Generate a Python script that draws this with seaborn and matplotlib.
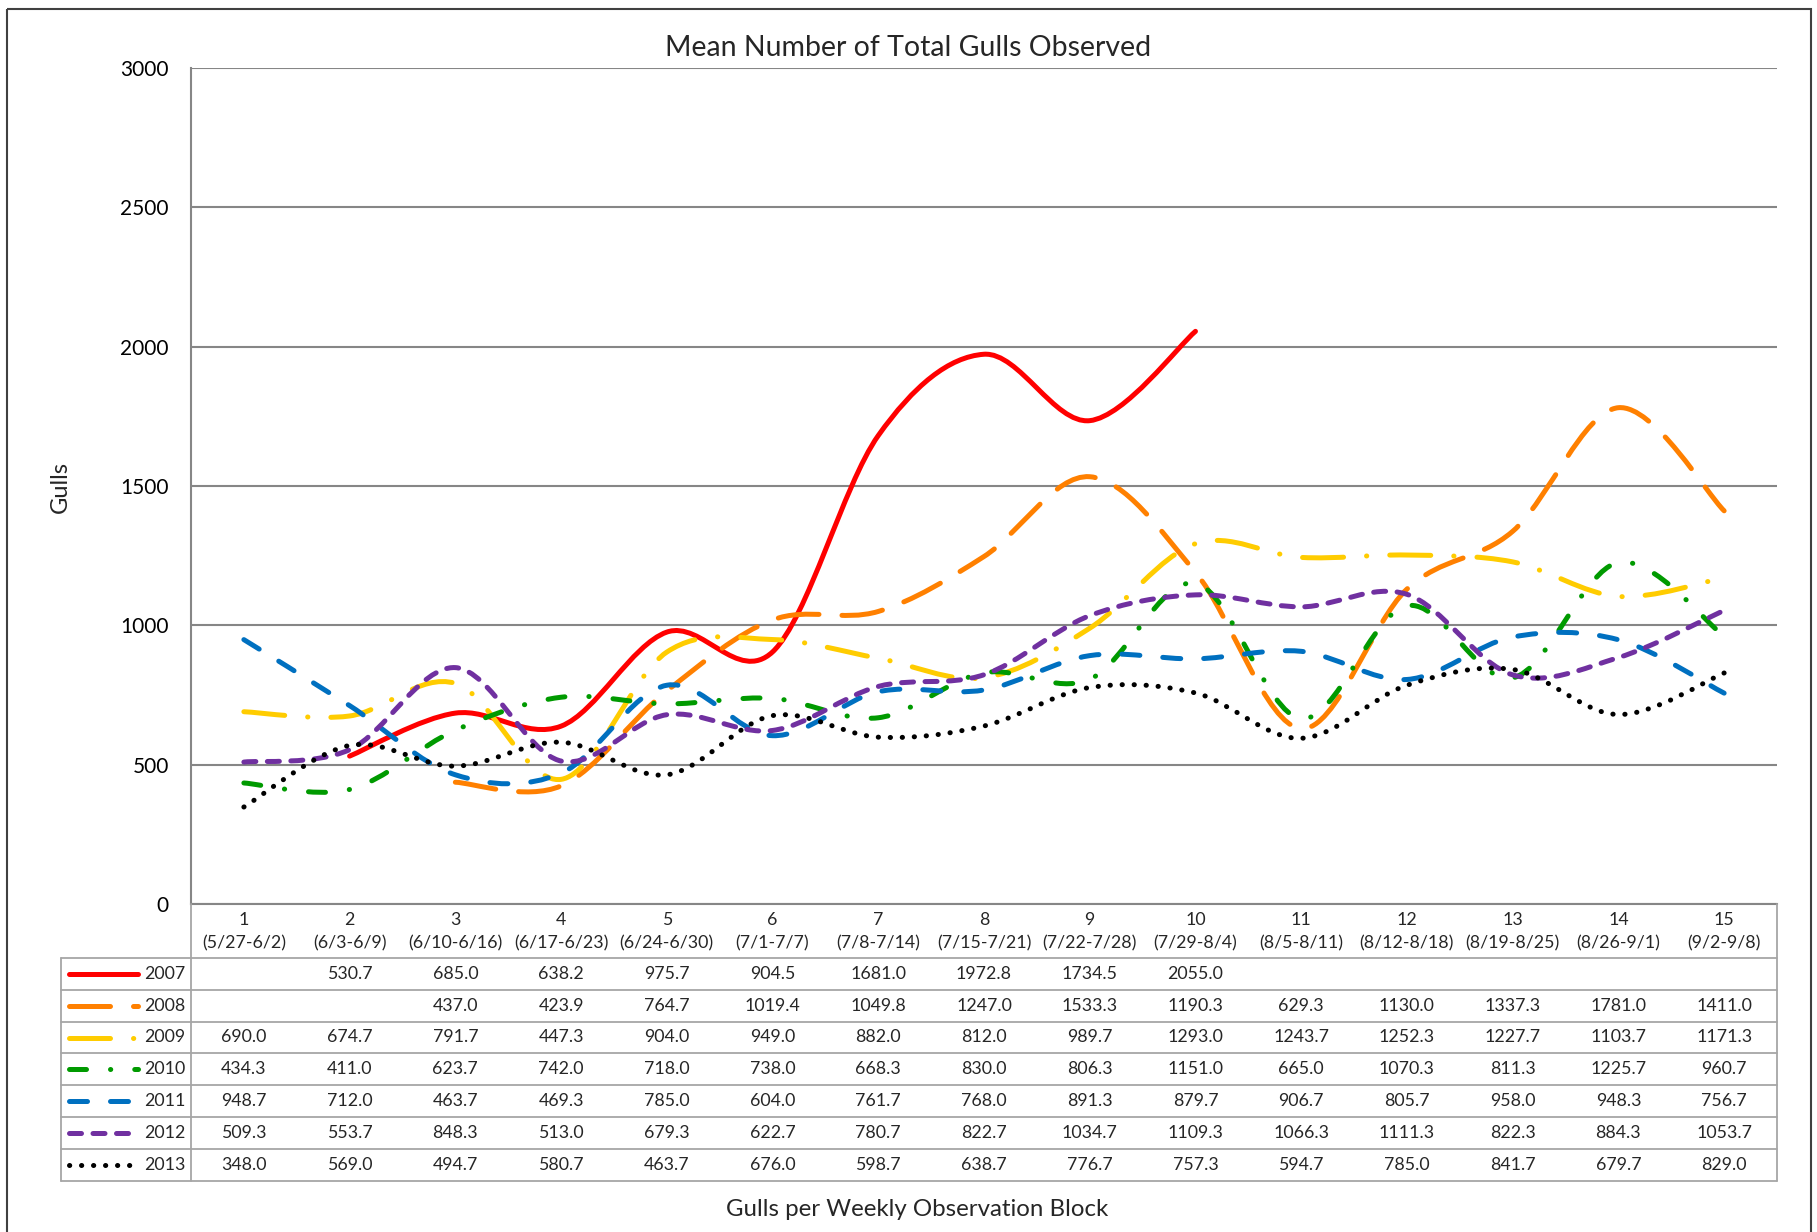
import numpy as np
import seaborn as sns
import matplotlib.pyplot as plt
from matplotlib.path import Path
from matplotlib.patches import PathPatch, Rectangle

# weekly blocks and their date ranges
blocks = list(range(1, 16))
date_ranges = ['(5/27-6/2)', '(6/3-6/9)', '(6/10-6/16)', '(6/17-6/23)', '(6/24-6/30)',
               '(7/1-7/7)', '(7/8-7/14)', '(7/15-7/21)', '(7/22-7/28)', '(7/29-8/4)',
               '(8/5-8/11)', '(8/12-8/18)', '(8/19-8/25)', '(8/26-9/1)', '(9/2-9/8)']

nan = np.nan
years = ['2007', '2008', '2009', '2010', '2011', '2012', '2013']
gulls_2007 = [nan, 530.7, 685.0, 638.2, 975.7, 904.5, 1681.0, 1972.8, 1734.5, 2055.0, nan, nan, nan, nan, nan]
gulls_2008 = [nan, nan, 437.0, 423.9, 764.7, 1019.4, 1049.8, 1247.0, 1533.3, 1190.3, 629.3, 1130.0, 1337.3, 1781.0, 1411.0]
gulls_2009 = [690.0, 674.7, 791.7, 447.3, 904.0, 949.0, 882.0, 812.0, 989.7, 1293.0, 1243.7, 1252.3, 1227.7, 1103.7, 1171.3]
gulls_2010 = [434.3, 411.0, 623.7, 742.0, 718.0, 738.0, 668.3, 830.0, 806.3, 1151.0, 665.0, 1070.3, 811.3, 1225.7, 960.7]
gulls_2011 = [948.7, 712.0, 463.7, 469.3, 785.0, 604.0, 761.7, 768.0, 891.3, 879.7, 906.7, 805.7, 958.0, 948.3, 756.7]
gulls_2012 = [509.3, 553.7, 848.3, 513.0, 679.3, 622.7, 780.7, 822.7, 1034.7, 1109.3, 1066.3, 1111.3, 822.3, 884.3, 1053.7]
gulls_2013 = [348.0, 569.0, 494.7, 580.7, 463.7, 676.0, 598.7, 638.7, 776.7, 757.3, 594.7, 785.0, 841.7, 679.7, 829.0]
series = [gulls_2007, gulls_2008, gulls_2009, gulls_2010, gulls_2011, gulls_2012, gulls_2013]

colors = ['#FF0000', '#FF8000', '#FFCC00', '#009A00', '#0070C0', '#7030A0', '#000000']
styles = ['-', (0, (8.2, 4.6)), (0, (8.2, 4.6, 0.05, 4.6)), (0, (3.4, 4.8, 0.05, 4.8)),
          (0, (3.6, 4.6)), (0, (2.4, 2.3)), (0, (0.05, 2.35))]

sns.set_theme(style='white')
plt.rcParams['font.family'] = ['Lato', 'DejaVu Sans']

W, H = 1817, 1232
X0, X1, Y0, Y1 = 191, 1777, 68, 904   # plot area in pixels
grid_col = '#868686'
lw = 3.6


def smooth_path(xs, ys):
    # Excel-style smoothed line: cubic bezier segments through the points
    pts = np.column_stack([xs, ys])
    verts, codes = [pts[0]], [Path.MOVETO]
    n = len(pts)
    for i in range(n - 1):
        p0 = pts[max(i - 1, 0)]
        p1, p2 = pts[i], pts[i + 1]
        p3 = pts[min(i + 2, n - 1)]
        verts += [p1 + (p2 - p0) / 6, p2 - (p3 - p1) / 6, p2]
        codes += [Path.CURVE4] * 3
    return Path(verts, codes)


fig = plt.figure(figsize=(W / 100, H / 100), dpi=100)
ax = fig.add_axes([X0 / W, 1 - Y1 / H, (X1 - X0) / W, (Y1 - Y0) / H])
ax.set_xlim(0.5, 15.5)
ax.set_ylim(0, 3000)
ax.set_yticks(range(0, 3001, 500))
ax.set_xticks([])
ax.yaxis.grid(True, color=grid_col, lw=1.5)
ax.set_axisbelow(True)
ax.tick_params(axis='y', length=0, pad=16, labelsize=15, labelcolor='black')
sns.despine(ax=ax, top=True, right=True)
for s in ['left', 'bottom']:
    ax.spines[s].set_color(grid_col)
    ax.spines[s].set_linewidth(1.5)

for vals, c, ls in zip(series, colors, styles):
    v = np.array(vals, dtype=float)
    x = np.array(blocks, dtype=float)
    ok = ~np.isnan(v)
    # split into runs of consecutive values
    idx = np.where(ok)[0]
    runs = np.split(idx, np.where(np.diff(idx) > 1)[0] + 1)
    for r in runs:
        if len(r) < 2:
            continue
        patch = PathPatch(smooth_path(x[r], v[r]), fill=False, edgecolor=c, lw=lw,
                          linestyle=ls, capstyle='round', joinstyle='round')
        ax.add_patch(patch)

# overlay in pixel coordinates for the data table and texts
ov = fig.add_axes([0, 0, 1, 1], facecolor='none')
ov.set_xlim(0, W)
ov.set_ylim(H, 0)
ov.axis('off')

ov.add_patch(Rectangle((7, 9), 1804, 1240, fill=False, edgecolor='#404040', lw=1.5))
ov.text(908, 48, 'Mean Number of Total Gulls Observed', ha='center', va='center', fontsize=20.5)
ov.text(60, 487, 'Gulls', ha='center', va='center', rotation=90, fontsize=17)
ov.text(917, 1209, 'Gulls per Weekly Observation Block', ha='center', va='center', fontsize=17.3)

colw = (X1 - X0) / 15
tab_left, row_top, row_h = 61, 958, 31.8
tbl_col = '#A6A6A6'
for i, (b, d) in enumerate(zip(blocks, date_ranges)):
    cx = X0 + (i + 0.5) * colw
    ov.text(cx, 920, str(b), ha='center', va='center', fontsize=12.8)
    ov.text(cx, 943, d, ha='center', va='center', fontsize=12.8)

bottom = row_top + row_h * len(years)
for k in range(len(years) + 1):
    yk = row_top + row_h * k
    ov.plot([tab_left, X1], [yk, yk], color=tbl_col, lw=1.3)
ov.plot([tab_left, tab_left], [row_top, bottom], color=tbl_col, lw=1.3)
ov.plot([X0, X0], [Y1, bottom], color=tbl_col, lw=1.3)
ov.plot([X1, X1], [Y1, bottom], color=tbl_col, lw=1.3)

for k, (yr, vals, c, ls) in enumerate(zip(years, series, colors, styles)):
    yc = row_top + row_h * (k + 0.5)
    ov.plot([69, 138], [yc, yc], color=c, lw=lw, linestyle=ls,
            solid_capstyle='round', dash_capstyle='round')
    ov.text(185, yc, yr, ha='right', va='center', fontsize=12.8)
    for i, v in enumerate(vals):
        if not np.isnan(v):
            ov.text(X0 + (i + 0.5) * colw, yc, f'{v:.1f}', ha='center', va='center', fontsize=12.8)

fig.savefig('out.png', dpi=100, facecolor='white')
